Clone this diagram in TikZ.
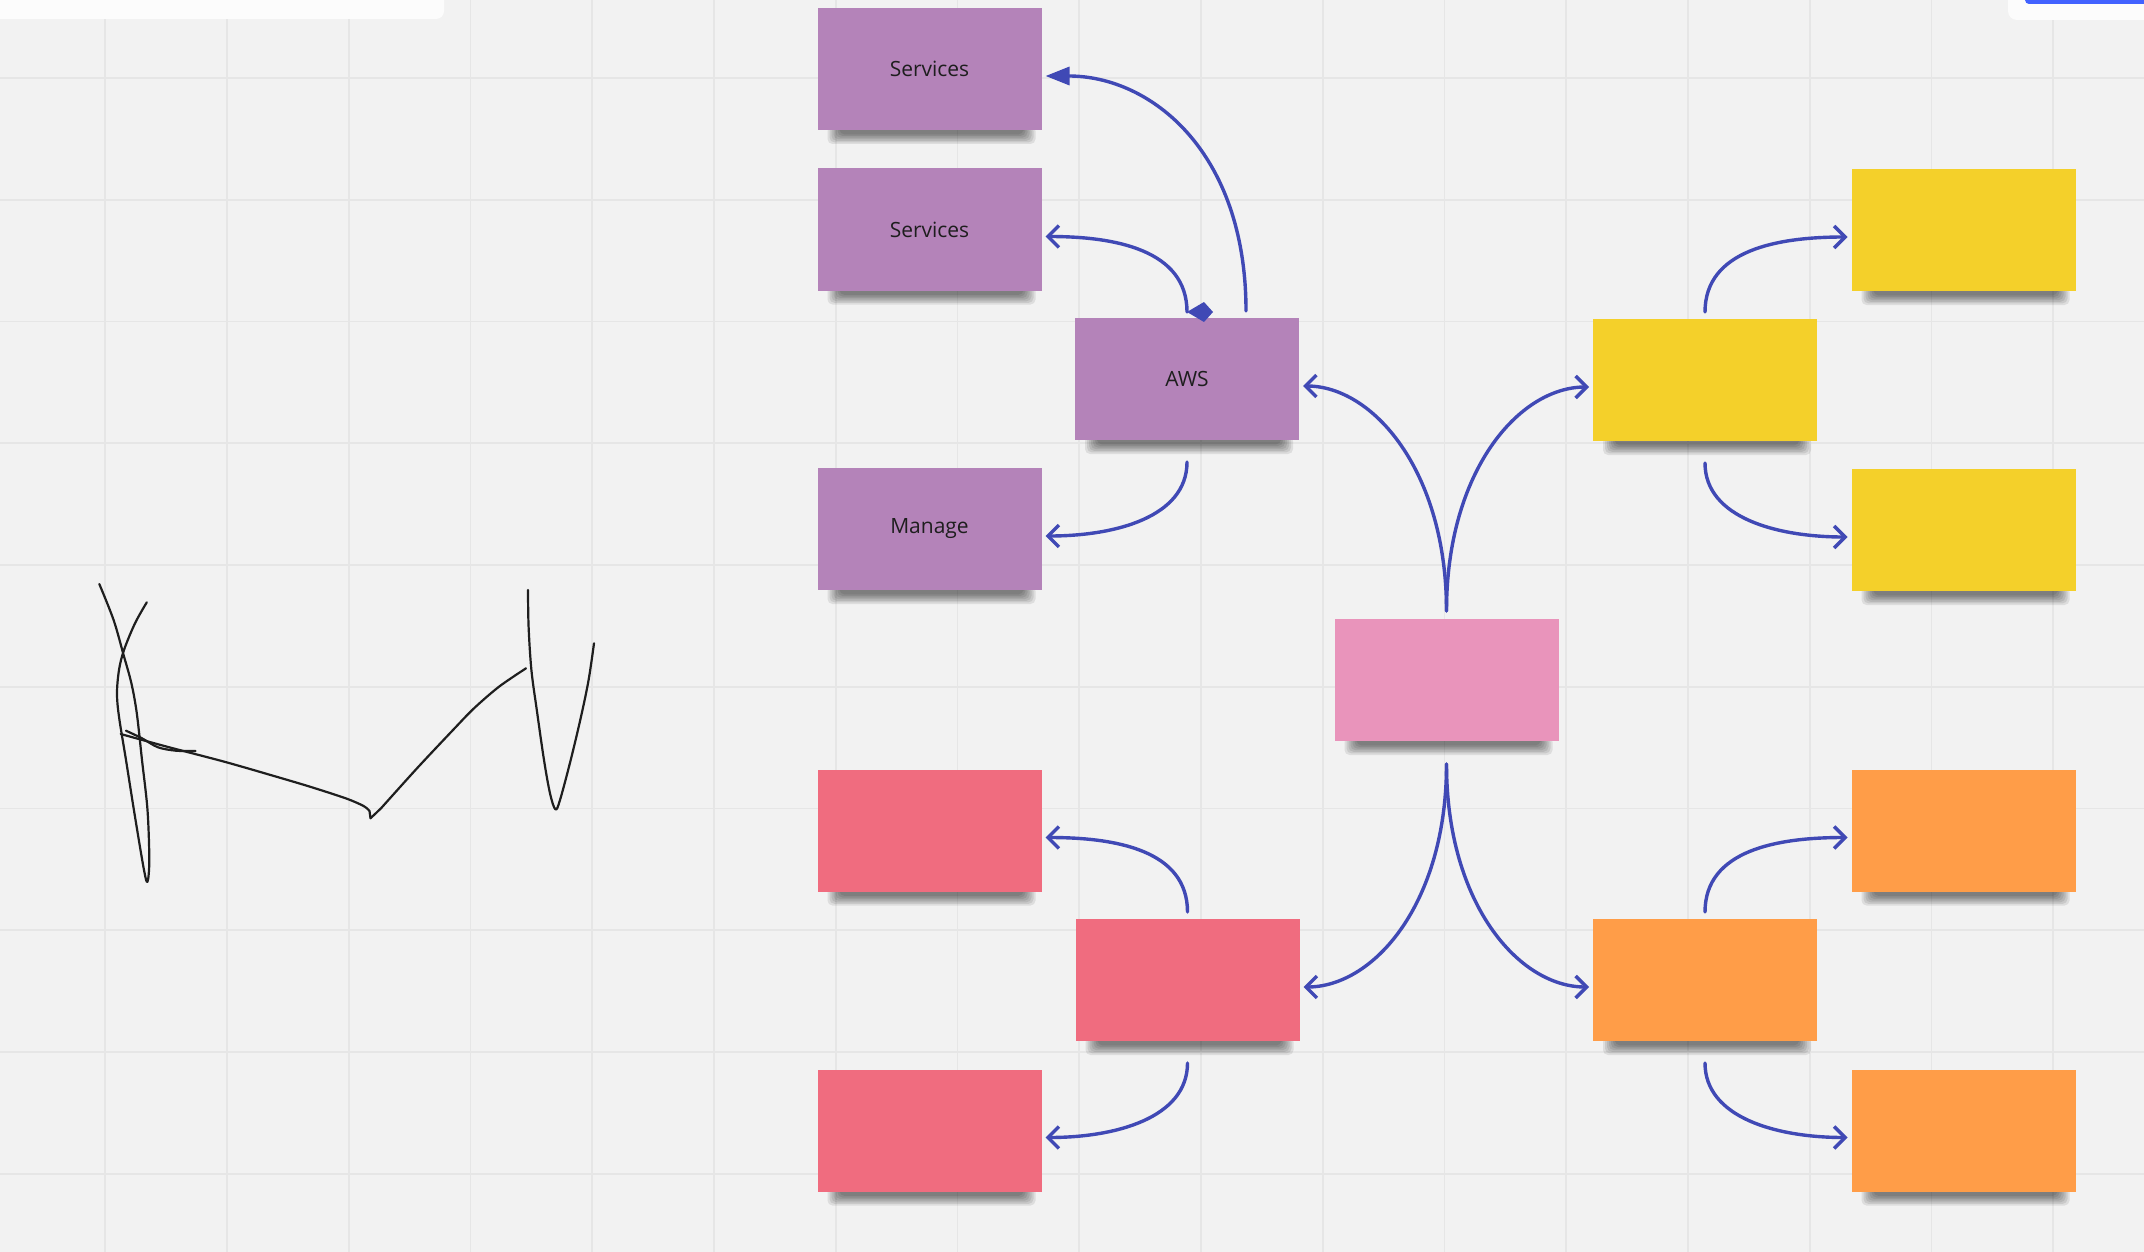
\documentclass[tikz,border=0pt]{standalone}
\usepackage{fontspec}
\setmainfont{Open Sans}
\usetikzlibrary{arrows.meta}

\definecolor{paper}{HTML}{F2F2F2}
\definecolor{gridline}{HTML}{E6E6E6}
\definecolor{panel}{HTML}{FCFCFC}
\definecolor{barblue}{HTML}{4262FF}
\definecolor{linkblue}{HTML}{4049B5}
\definecolor{ink}{HTML}{1E1E1E}
\definecolor{notepurple}{HTML}{B483B9}
\definecolor{notepink}{HTML}{E994BB}
\definecolor{noteyellow}{HTML}{F4D02A}
\definecolor{notered}{HTML}{F06C7F}
\definecolor{noteorange}{HTML}{FF9D48}

\pgfdeclarelayer{paperlayer}
\pgfdeclarelayer{shadowlayer}
\pgfsetlayers{paperlayer,shadowlayer,main}

\tikzset{
  note/.style={minimum width=224pt, minimum height=122pt, inner sep=0pt,
    outer sep=0pt, font=\fontsize{21}{25}\selectfont, text=ink},
  link/.style={draw=linkblue, line width=3.4pt, line cap=round},
  openhead/.style={-{Straight Barb[length=11pt,width=22pt]}},
  solidhead/.style={-{Triangle[length=24pt,width=18pt]}},
  pen/.style={draw=ink, line width=2.2pt, line cap=round, line join=round},
}

% soft shadow under the lower edge of a sticky note
\newcommand\noteshadow[1]{%
  \foreach \k in {0,...,6}{%
    \fill[black, opacity=0.085, rounded corners=5pt]
      ([xshift={(10+2*\k)*1pt}, yshift=4pt]#1.south west) rectangle
      ([xshift={-(6+2*\k)*1pt}, yshift={-(14-1.6*\k)*1pt}]#1.south east);}}

\begin{document}
\begin{tikzpicture}[x=1pt, y=-1pt]
\useasboundingbox (0,0) rectangle (2144,1252);

% board with its grid
\begin{pgfonlayer}{paperlayer}
  \fill[paper] (0,0) rectangle (2144,1252);
  \foreach \i in {0,...,16}
    \draw[gridline, line width=1.8pt] ({105.3+121.75*\i},0) -- ({105.3+121.75*\i},1252);
  \foreach \j in {0,...,9}
    \draw[gridline, line width=1.8pt] (0,{78+121.75*\j}) -- (2144,{78+121.75*\j});
  % toolbar panels
  \fill[panel, rounded corners=8pt] (-20,-20) rectangle (444,19);
  \fill[panel, rounded corners=9pt] (2008,-20) rectangle (2170,20);
  \fill[barblue, rounded corners=4pt] (2025,-10) rectangle (2170,4);
\end{pgfonlayer}

% sticky notes
\node[note, fill=notepurple] (s1)     at (929.5,69)    {Services};
\node[note, fill=notepurple] (s2)     at (929.5,229.5) {Services};
\node[note, fill=notepurple] (aws)    at (1187,379)    {AWS};
\node[note, fill=notepurple] (manage) at (929.5,529)   {Manage};
\node[note, fill=notepink]   (hub)    at (1446.5,680)  {};
\node[note, fill=noteyellow] (ymain)  at (1705,380)    {};
\node[note, fill=noteyellow] (ytop)   at (1963.5,230)  {};
\node[note, fill=noteyellow] (ybot)   at (1963.5,530)  {};
\node[note, fill=notered]    (rtop)   at (929.5,830.5) {};
\node[note, fill=notered]    (rmain)  at (1187.5,980)  {};
\node[note, fill=notered]    (rbot)   at (929.5,1130.5){};
\node[note, fill=noteorange] (otop)   at (1963.5,830.5){};
\node[note, fill=noteorange] (omain)  at (1705,980)    {};
\node[note, fill=noteorange] (obot)   at (1963.5,1130.5){};

\begin{pgfonlayer}{shadowlayer}
  \foreach \n in {s1,s2,aws,manage,hub,ymain,ytop,ybot,rtop,rmain,rbot,otop,omain,obot}
    {\noteshadow{\n}}
\end{pgfonlayer}

% connectors
\draw[link, solidhead] ([xshift=59pt, yshift=7pt]aws.north)
  .. controls +(0,-160) and +(105,0) .. ([xshift=4pt, yshift=-7pt]s1.east);
\draw[link, openhead] ([yshift=6pt]aws.north)
  .. controls +(0,-62) and +(70,0) .. ([xshift=4pt, yshift=-7pt]s2.east);
\fill[linkblue] ([yshift=6pt]aws.north) -- ++(17,-10) -- ++(9,10) -- ++(-9,10) -- cycle;
\draw[link, openhead] ([yshift=-22pt]aws.south)
  .. controls +(0,55) and +(70,0) .. ([xshift=4pt, yshift=-7pt]manage.east);

\draw[link, openhead] ([yshift=8pt]hub.north)
  .. controls +(0,-140) and +(70,0) .. ([xshift=4pt, yshift=-7pt]aws.east);
\draw[link, openhead] ([yshift=8pt]hub.north)
  .. controls +(0,-140) and +(-70,0) .. ([xshift=-4pt, yshift=-7pt]ymain.west);
\draw[link, openhead] ([yshift=-23pt]hub.south)
  .. controls +(0,140) and +(70,0) .. ([xshift=4pt, yshift=-7pt]rmain.east);
\draw[link, openhead] ([yshift=-23pt]hub.south)
  .. controls +(0,140) and +(-70,0) .. ([xshift=-4pt, yshift=-7pt]omain.west);

\draw[link, openhead] ([yshift=7pt]ymain.north)
  .. controls +(0,-62) and +(-70,0) .. ([xshift=-4pt, yshift=-7pt]ytop.west);
\draw[link, openhead] ([yshift=-22pt]ymain.south)
  .. controls +(0,55) and +(-70,0) .. ([xshift=-4pt, yshift=-7pt]ybot.west);

\draw[link, openhead] ([yshift=7pt]rmain.north)
  .. controls +(0,-62) and +(70,0) .. ([xshift=4pt, yshift=-7pt]rtop.east);
\draw[link, openhead] ([yshift=-22pt]rmain.south)
  .. controls +(0,55) and +(70,0) .. ([xshift=4pt, yshift=-7pt]rbot.east);

\draw[link, openhead] ([yshift=7pt]omain.north)
  .. controls +(0,-62) and +(-70,0) .. ([xshift=-4pt, yshift=-7pt]otop.west);
\draw[link, openhead] ([yshift=-22pt]omain.south)
  .. controls +(0,55) and +(-70,0) .. ([xshift=-4pt, yshift=-7pt]obot.west);

% freehand pen strokes
\draw[pen] plot[smooth, tension=0.55] coordinates {
  (99.3,584) (113.6,620) (123.6,655) (131.4,683.3) (136.8,713.3) (142,760)
  (147.5,810) (149.3,860) (147.5,881.7) (144,870) (135,816.7) (126,760)
  (119,716.7) (117,693.3) (119,670) (124,650) (135,623.3) (146.8,602.3)};
\draw[pen] plot[smooth, tension=0.5] coordinates {
  (120.7,734) (167,746.7) (224.3,761.7) (274,776) (310,786.7) (345.7,798.3)
  (363.6,806) (369.5,811)}
  -- (370.5,818.3) --
  plot[smooth, tension=0.5] coordinates {
  (381,808.3) (417,768.3) (453,730) (474,708.3) (499,686.7) (526,668.3)};
\draw[pen] plot[smooth, tension=0.5] coordinates {
  (126,730.7) (142,738.3) (158,747.3) (176,750.7) (195.5,751)};
\draw[pen] plot[smooth, tension=0.55] coordinates {
  (528,590) (528.6,626.7) (531.4,670) (536.8,710) (544,760) (550,793.3)
  (555.4,809.3) (560,800) (570.7,760) (581,716.7) (588.6,680) (594,643.3)};
\end{tikzpicture}
\end{document}
